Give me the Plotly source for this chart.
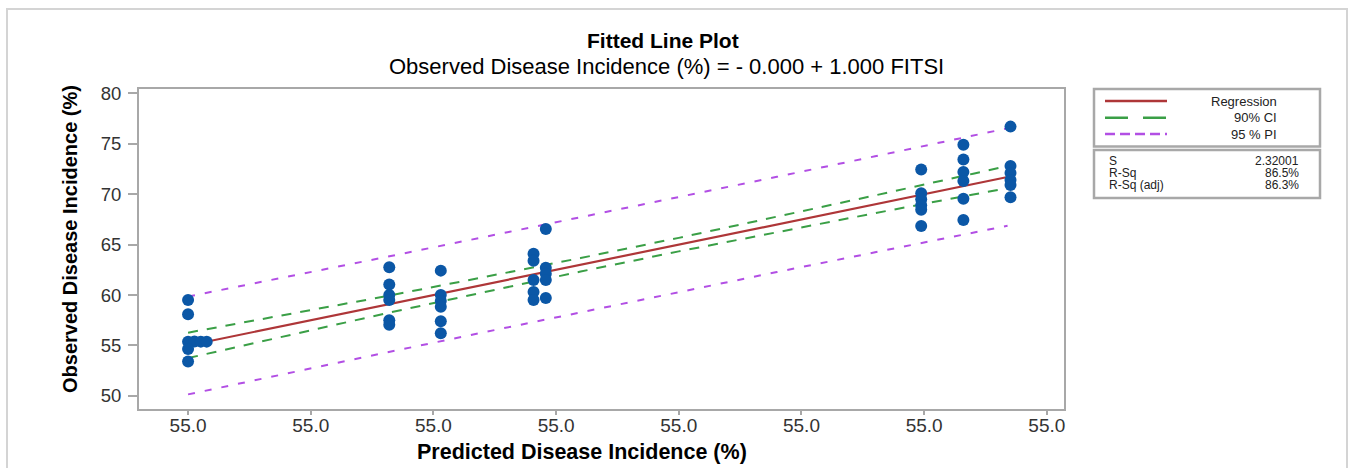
import plotly.graph_objects as go

# ---------------- data ----------------
obs_x = [55.0, 55.0, 55.0, 55.13, 55.26, 55.38, 55.0, 55.0,
         59.1, 59.1, 59.1, 59.1, 59.1, 59.1,
         60.15, 60.15, 60.15, 60.15, 60.15, 60.15,
         62.04, 62.04, 62.04, 62.04, 62.04,
         62.29, 62.29, 62.29, 62.29, 62.29,
         69.94, 69.94, 69.94, 69.94, 69.94, 69.94,
         70.8, 70.8, 70.8, 70.8, 70.8, 70.8,
         71.76, 71.76, 71.76, 71.76, 71.76, 71.76]
obs_y = [59.5, 58.1, 55.38, 55.4, 55.38, 55.38, 54.65, 53.4,
         62.75, 61.05, 60.0, 59.5, 57.5, 57.05,
         62.42, 60.0, 59.4, 58.85, 57.4, 56.2,
         64.1, 63.4, 61.5, 60.3, 59.5,
         66.55, 62.7, 62.1, 61.5, 59.7,
         72.45, 70.1, 69.5, 68.9, 68.45, 66.85,
         74.9, 73.45, 72.2, 71.3, 69.55, 67.45,
         76.7, 72.8, 72.1, 71.4, 70.9, 69.7]

reg_x = [55.0, 71.7]
reg_y = [55.0, 71.7]

band_x = [55.0, 57.0, 59.0, 61.0, 63.0, 65.0, 67.0, 69.0, 71.0, 71.7]
ci_upper = [56.27, 58.05, 59.85, 61.75, 63.67, 65.67, 67.76, 69.88, 72.03, 72.8]
ci_lower = [53.75, 55.95, 58.15, 60.25, 62.33, 64.33, 66.24, 68.12, 69.97, 70.6]
pi_upper = [59.85, 61.78, 63.74, 65.72, 67.7, 69.7, 71.72, 73.76, 75.8, 76.53]
pi_lower = [50.15, 52.22, 54.26, 56.28, 58.3, 60.3, 62.28, 64.24, 66.2, 66.87]

x_ticks = [55.0, 57.5, 60.0, 62.5, 65.0, 67.5, 70.0, 72.5]
x_tick_labels = ["55.0"] * 8
y_ticks = [50, 55, 60, 65, 70, 75, 80]

legend_labels = ["Regression", "90% CI", "95 % PI"]
stat_names = ["S", "R-Sq", "R-Sq (adj)"]
stat_values = ["2.32001", "86.5%", "86.3%"]

# ---------------- styling ----------------
W, H = 1348, 468
L, R, T, B = 139, 1064, 89, 409
FONT = "Liberation Sans, Arial, sans-serif"
RED, GREEN, PURPLE, BLUE = "#AE3638", "#3A9F46", "#B24FE4", "#0B57A6"
GREY = "#A8A8A8"


def px(xp):
    return (xp - L) / (R - L)


def py(yp):
    return (B - yp) / (B - T)


fig = go.Figure()
fig.add_trace(go.Scatter(x=band_x, y=pi_upper, mode="lines",
                         line=dict(color=PURPLE, width=2, dash="7px,10px"), hoverinfo="skip"))
fig.add_trace(go.Scatter(x=band_x, y=pi_lower, mode="lines",
                         line=dict(color=PURPLE, width=2, dash="7px,10px"), hoverinfo="skip"))
fig.add_trace(go.Scatter(x=band_x, y=ci_upper, mode="lines",
                         line=dict(color=GREEN, width=2, dash="10px,9px"), hoverinfo="skip"))
fig.add_trace(go.Scatter(x=band_x, y=ci_lower, mode="lines",
                         line=dict(color=GREEN, width=2, dash="10px,9px"), hoverinfo="skip"))
fig.add_trace(go.Scatter(x=reg_x, y=reg_y, mode="lines",
                         line=dict(color=RED, width=2.2)))
fig.add_trace(go.Scatter(x=obs_x, y=obs_y, mode="markers",
                         marker=dict(color=BLUE, size=12, symbol="circle", line=dict(width=0))))

axis_common = dict(showline=True, linecolor=GREY, linewidth=2, mirror=True,
                   showgrid=False, zeroline=False, ticks="outside", tickcolor=GREY,
                   tickwidth=1.5)

fig.update_xaxes(range=[54.0, 72.85], tickvals=x_ticks, ticktext=x_tick_labels,
                 ticklen=4, ticklabelstandoff=-6,
                 tickfont=dict(family=FONT, size=19, color="#333333"),
                 **axis_common)
fig.update_yaxes(range=[48.7, 80.43], tickvals=y_ticks, ticklen=9,
                 ticklabelstandoff=3, tickfont=dict(family=FONT, size=18.5, color="#333333"),
                 **axis_common)

shapes = []
annotations = []
# outer frame
shapes.append(dict(type="rect", xref="paper", yref="paper", x0=px(7), x1=px(1347),
                   y0=py(472), y1=py(9), line=dict(color="#D4D4D4", width=2)))
# legend boxes
shapes.append(dict(type="rect", xref="paper", yref="paper", x0=px(1094), x1=px(1320),
                   y0=py(146.5), y1=py(89), line=dict(color=GREY, width=2.5)))
shapes.append(dict(type="rect", xref="paper", yref="paper", x0=px(1094), x1=px(1320),
                   y0=py(198), y1=py(150), line=dict(color=GREY, width=2.5)))
# legend samples
samples = [(101, RED, "solid"), (117.7, GREEN, "23px,15px"), (134, PURPLE, "10px,5px")]
for (yy, col, dash), lab in zip(samples, legend_labels):
    shapes.append(dict(type="line", xref="paper", yref="paper", x0=px(1105), x1=px(1167),
                       y0=py(yy), y1=py(yy), line=dict(color=col, width=2.5, dash=dash)))
    annotations.append(dict(xref="paper", yref="paper", x=px(1279), y=py(yy), text=lab,
                            xanchor="right", yanchor="middle", showarrow=False,
                            font=dict(family=FONT, size=13, color="#222222")))
for yy, nm, val in zip([160.5, 172.5, 184.5], stat_names, stat_values):
    annotations.append(dict(xref="paper", yref="paper", x=px(1107), y=py(yy), text=nm,
                            xanchor="left", yanchor="middle", showarrow=False,
                            font=dict(family=FONT, size=12, color="#222222")))
    annotations.append(dict(xref="paper", yref="paper", x=px(1301), y=py(yy), text=val,
                            xanchor="right", yanchor="middle", showarrow=False,
                            font=dict(family=FONT, size=12, color="#222222")))

# titles
annotations.append(dict(xref="paper", yref="paper", x=px(663), y=py(40),
                        text="<b>Fitted Line Plot</b>", showarrow=False,
                        xanchor="center", yanchor="middle",
                        font=dict(family=FONT, size=21, color="black")))
annotations.append(dict(xref="paper", yref="paper", x=px(666), y=py(67),
                        text="Observed Disease Incidence (%) = - 0.000 + 1.000 FITSI",
                        showarrow=False, xanchor="center", yanchor="middle",
                        font=dict(family=FONT, size=22, color="black")))
annotations.append(dict(xref="paper", yref="paper", x=px(582), y=py(452),
                        text="<b>Predicted Disease Incidence (%)</b>", showarrow=False,
                        xanchor="center", yanchor="middle",
                        font=dict(family=FONT, size=21.5, color="black")))
annotations.append(dict(xref="paper", yref="paper", x=px(70), y=py(239),
                        text="<b>Observed Disease Incidence (%)</b>", showarrow=False,
                        textangle=-90, xanchor="center", yanchor="middle",
                        font=dict(family=FONT, size=20, color="black")))

fig.update_layout(width=W, height=H, margin=dict(l=L, r=W - R, t=T, b=H - B),
                  plot_bgcolor="white", paper_bgcolor="white", showlegend=False,
                  shapes=shapes, annotations=annotations, font=dict(family=FONT))

fig.write_html("out.html")
